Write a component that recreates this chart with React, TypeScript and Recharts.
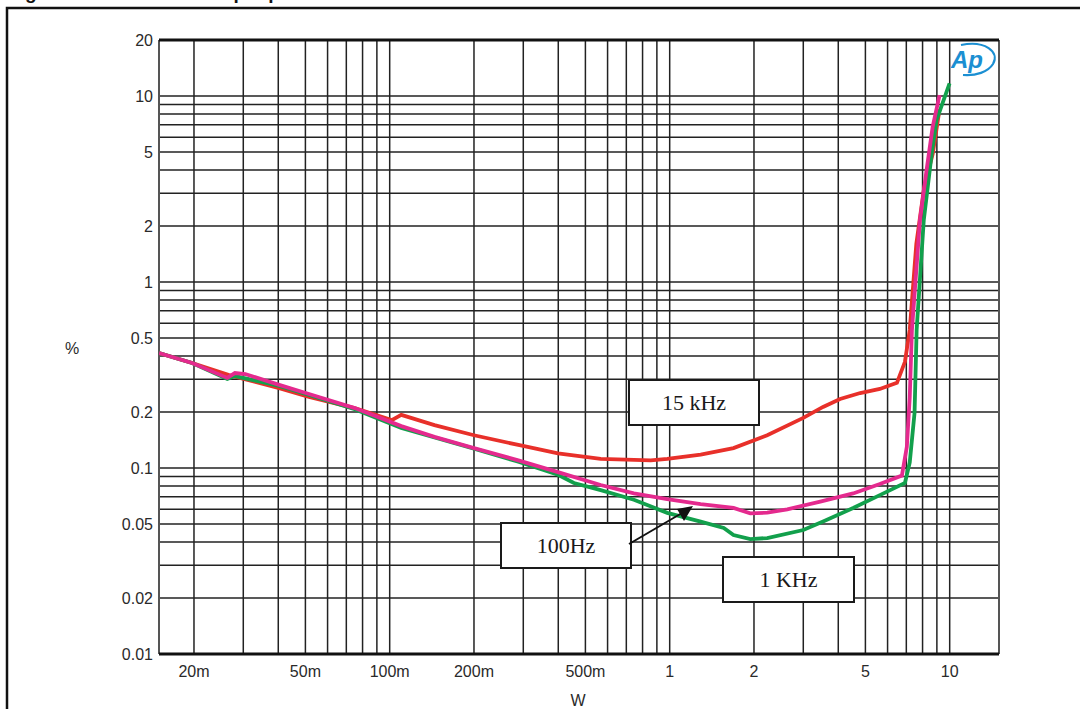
import { CartesianGrid, Line, LineChart, ReferenceLine, XAxis, YAxis } from "recharts";

// grid positions (1..9 per decade) and the labelled subset
const xGrid = [
  0.02, 0.03, 0.04, 0.05, 0.06, 0.07, 0.08, 0.09,
  0.1, 0.2, 0.3, 0.4, 0.5, 0.6, 0.7, 0.8, 0.9,
  1, 2, 3, 4, 5, 6, 7, 8, 9, 10,
];
const xMajor = [0.02, 0.05, 0.1, 0.2, 0.5, 1, 2, 5, 10];
const xMajorLabels = ["20m", "50m", "100m", "200m", "500m", "1", "2", "5", "10"];

const yGrid = [
  0.01, 0.02, 0.03, 0.04, 0.05, 0.06, 0.07, 0.08, 0.09,
  0.1, 0.2, 0.3, 0.4, 0.5, 0.6, 0.7, 0.8, 0.9,
  1, 2, 3, 4, 5, 6, 7, 8, 9, 10, 20,
];
const yMajor = [0.01, 0.02, 0.05, 0.1, 0.2, 0.5, 1, 2, 5, 10, 20];
const yMajorLabels = ["0.01", "0.02", "0.05", "0.1", "0.2", "0.5", "1", "2", "5", "10", "20"];

// THD+N (%) against output power (W)
const thd15k = [
  { w: 0.015, v: 0.415 }, { w: 0.0197, v: 0.367 }, { w: 0.0267, v: 0.316 },
  { w: 0.0403, v: 0.269 }, { w: 0.0515, v: 0.241 }, { w: 0.075, v: 0.21 },
  { w: 0.1017, v: 0.181 }, { w: 0.11, v: 0.193 }, { w: 0.1445, v: 0.17 },
  { w: 0.2, v: 0.15 }, { w: 0.288, v: 0.133 }, { w: 0.399, v: 0.12 },
  { w: 0.567, v: 0.112 }, { w: 0.856, v: 0.11 }, { w: 0.98, v: 0.112 },
  { w: 1.29, v: 0.118 }, { w: 1.69, v: 0.128 }, { w: 2.23, v: 0.15 },
  { w: 3.0, v: 0.186 }, { w: 3.53, v: 0.213 }, { w: 4.06, v: 0.235 },
  { w: 4.79, v: 0.253 }, { w: 5.63, v: 0.266 }, { w: 6.48, v: 0.287 },
  { w: 6.92, v: 0.372 }, { w: 7.2, v: 0.552 }, { w: 7.6, v: 1.6 },
  { w: 8.1, v: 3.2 }, { w: 8.7, v: 4.9 }, { w: 9.2, v: 8.5 },
];
const thd100 = [
  { w: 0.015, v: 0.415 }, { w: 0.0197, v: 0.367 }, { w: 0.0263, v: 0.305 },
  { w: 0.028, v: 0.324 }, { w: 0.0305, v: 0.32 }, { w: 0.0403, v: 0.28 },
  { w: 0.0515, v: 0.25 }, { w: 0.075, v: 0.21 }, { w: 0.11, v: 0.168 },
  { w: 0.1445, v: 0.147 }, { w: 0.2, v: 0.128 }, { w: 0.288, v: 0.11 },
  { w: 0.399, v: 0.095 }, { w: 0.567, v: 0.081 }, { w: 0.745, v: 0.073 },
  { w: 0.98, v: 0.068 }, { w: 1.29, v: 0.064 }, { w: 1.69, v: 0.061 },
  { w: 1.94, v: 0.057 }, { w: 2.23, v: 0.0575 }, { w: 2.63, v: 0.06 },
  { w: 3.45, v: 0.066 }, { w: 4.52, v: 0.073 }, { w: 5.63, v: 0.082 },
  { w: 6.75, v: 0.091 }, { w: 7.03, v: 0.13 }, { w: 7.2, v: 0.24 },
  { w: 7.33, v: 0.552 }, { w: 7.83, v: 2.15 }, { w: 8.27, v: 4.0 },
  { w: 8.69, v: 6.8 }, { w: 9.2, v: 10.1 },
];
const thd1k = [
  { w: 0.015, v: 0.415 }, { w: 0.0197, v: 0.367 }, { w: 0.0263, v: 0.301 },
  { w: 0.028, v: 0.312 }, { w: 0.0403, v: 0.276 }, { w: 0.0515, v: 0.247 },
  { w: 0.075, v: 0.207 }, { w: 0.11, v: 0.164 }, { w: 0.2, v: 0.127 },
  { w: 0.288, v: 0.108 }, { w: 0.399, v: 0.092 }, { w: 0.455, v: 0.083 },
  { w: 0.567, v: 0.076 }, { w: 0.745, v: 0.0675 }, { w: 0.98, v: 0.0574 },
  { w: 1.29, v: 0.0515 }, { w: 1.56, v: 0.0476 }, { w: 1.69, v: 0.0436 },
  { w: 1.94, v: 0.0415 }, { w: 2.23, v: 0.042 }, { w: 3.0, v: 0.0464 },
  { w: 3.53, v: 0.0515 }, { w: 4.52, v: 0.0609 }, { w: 5.63, v: 0.0715 },
  { w: 6.92, v: 0.083 }, { w: 7.2, v: 0.107 }, { w: 7.49, v: 0.198 },
  { w: 7.62, v: 0.552 }, { w: 8.08, v: 2.15 }, { w: 8.63, v: 4.94 },
  { w: 8.98, v: 7.43 }, { w: 9.99, v: 11.7 },
];

const sans = "'Liberation Sans', Arial, sans-serif";
const serif = "'Liberation Serif', 'Times New Roman', serif";
const tickStyle = { fill: "#2a2a2a", fontSize: 16, fontFamily: sans };

const fmtX = (v: number) => {
  const i = xMajor.indexOf(v);
  return i >= 0 ? xMajorLabels[i] : "";
};
const fmtY = (v: number) => {
  const i = yMajor.indexOf(v);
  return i >= 0 ? yMajorLabels[i] : "";
};

function NoteBox({ x, y, w, h, text }: { x: number; y: number; w: number; h: number; text: string }) {
  return (
    <g>
      <rect x={x} y={y} width={w} height={h} fill="#fff" stroke="#1a1a1a" strokeWidth={2} />
      <text
        x={x + w / 2}
        y={y + h / 2 + 7}
        textAnchor="middle"
        fontFamily={serif}
        fontSize={22}
        fill="#1a1a1a"
      >
        {text}
      </text>
    </g>
  );
}

export default function App() {
  return (
    <div style={{ position: "absolute", left: 0, top: 0, width: 1080, height: 709, background: "#fff", overflow: "hidden" }}>
      <LineChart width={1080} height={709} margin={{ top: 40, right: 81, bottom: 25, left: 99 }}>
        <CartesianGrid stroke="#222" strokeWidth={1.5} />
        <XAxis
          type="number"
          dataKey="w"
          scale="log"
          domain={[0.015, 15]}
          allowDataOverflow
          ticks={xGrid}
          interval={0}
          tickFormatter={fmtX}
          tick={tickStyle}
          tickLine={false}
          axisLine={false}
          tickSize={0}
          tickMargin={12}
          height={30}
        />
        <YAxis
          type="number"
          dataKey="v"
          scale="log"
          domain={[0.01, 20]}
          allowDataOverflow
          ticks={yGrid}
          interval={0}
          tickFormatter={fmtY}
          tick={tickStyle}
          tickLine={false}
          axisLine={false}
          tickSize={0}
          tickMargin={6}
          width={60}
        />
        <ReferenceLine x={0.015} stroke="#555" strokeWidth={2} />
        <ReferenceLine x={15} stroke="#555" strokeWidth={2} />
        <ReferenceLine y={20} stroke="#111" strokeWidth={3} />
        <ReferenceLine y={0.01} stroke="#111" strokeWidth={3} />
        <Line data={thd15k} dataKey="v" type="linear" stroke="#e8302a" strokeWidth={3.8} dot={false} isAnimationActive={false} />
        <Line data={thd1k} dataKey="v" type="linear" stroke="#12a04c" strokeWidth={3.8} dot={false} isAnimationActive={false} />
        <Line data={thd100} dataKey="v" type="linear" stroke="#e42a8e" strokeWidth={3.8} dot={false} isAnimationActive={false} />
      </LineChart>

      <svg width={1080} height={709} style={{ position: "absolute", left: 0, top: 0, pointerEvents: "none" }}>
        {/* page frame; the heading sits above the top edge, only its descenders show */}
        <rect x={7} y={8} width={1200} height={800} fill="none" stroke="#111" strokeWidth={2.5} />
        <text x={8} y={-1} fontFamily={sans} fontWeight="bold" fontSize={19} fill="#111">
          Figure 13. THD+N vs. output power
        </text>

        <text x={72} y={354} textAnchor="middle" fontFamily={sans} fontSize={16} fill="#2a2a2a">%</text>
        <text x={578} y={706} textAnchor="middle" fontFamily={sans} fontSize={16} fill="#2a2a2a">W</text>

        {/* analyzer logo */}
        <text x={951} y={68} fontFamily={sans} fontStyle="italic" fontWeight="bold" fontSize={24} fill="#1b8fd2">Ap</text>
        <path d="M 961 45 C 985 40, 1000 52, 993 64 C 988 72, 976 76, 963 75" fill="none" stroke="#1b8fd2" strokeWidth={2.2} />

        <NoteBox x={629} y={380} w={130} h={45} text="15 kHz" />
        <NoteBox x={501} y={523} w={130} h={45} text="100Hz" />
        <NoteBox x={723} y={557} w={131} h={45} text="1 KHz" />

        <line x1={629} y1={544} x2={682} y2={513} stroke="#111" strokeWidth={2} />
        <polygon points="693,506 677,509 684,521" fill="#111" />
      </svg>
    </div>
  );
}
